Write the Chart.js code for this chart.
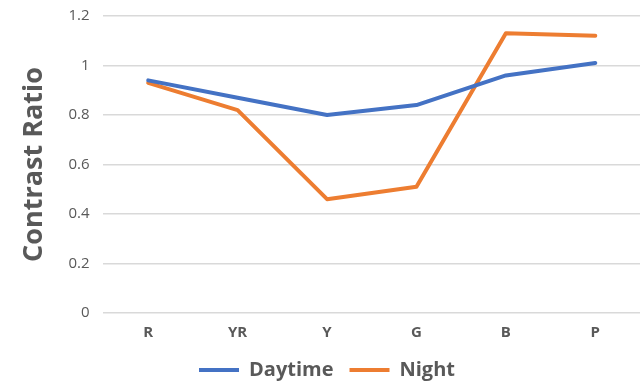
<!DOCTYPE html>
<html>
<head>
<meta charset="utf-8">
<script src="https://cdn.jsdelivr.net/npm/chart.js@4"></script>
<style>
  html, body { margin: 0; padding: 0; background: #fff; }
  #wrap { width: 644px; height: 385px; }
</style>
</head>
<body>
<div id="wrap"><canvas id="contrastChart"></canvas></div>
<script>

// ======================
// DATA
// ======================

const categories = ["R", "YR", "Y", "G", "B", "P"];
const daytimeValues = [0.94, 0.87, 0.80, 0.84, 0.96, 1.01];
const nightValues = [0.93, 0.82, 0.46, 0.51, 1.13, 1.12];
const yTicks = [0, 0.2, 0.4, 0.6, 0.8, 1, 1.2];


// ======================
// COLORS
// ======================

const blue = "#4472C4";
const orange = "#ED7D31";
const textGray = "#595959";
const gridGray = "#d9d9d9";


// ======================
// LEGEND NUDGE
// ======================

// pulls the legend a bit closer to the axis labels
const legendNudge = {
  id: "legendNudge",
  afterLayout(chart) {
    if(chart.legend) {
      chart.legend.top -= 1;
      chart.legend.bottom -= 1;
    }
  }
};


// ======================
// RENDER
// ======================

const canvas =
  document.getElementById("contrastChart");

new Chart(canvas, {

  type: "line",

  data: {
    labels: categories,
    datasets: [
      {
        label: "Daytime",
        data: daytimeValues,
        borderColor: blue,
        backgroundColor: blue,
        borderWidth: 4,
        pointRadius: 0,
        tension: 0,
        borderCapStyle: "round",
        borderJoinStyle: "round"
      },
      {
        label: "Night",
        data: nightValues,
        borderColor: orange,
        backgroundColor: orange,
        borderWidth: 4,
        pointRadius: 0,
        tension: 0,
        borderCapStyle: "round",
        borderJoinStyle: "round"
      }
    ]
  },

  plugins: [legendNudge],

  options: {
    responsive: true,
    maintainAspectRatio: false,
    animation: false,
    layout: {
      padding: { left: 14, right: 4, top: 16, bottom: -6 }
    },
    plugins: {
      tooltip: { enabled: false },
      legend: {
        position: "bottom",
        labels: {
          usePointStyle: true,
          pointStyle: "line",
          pointStyleWidth: 40,
          color: textGray,
          padding: 16,
          font: { family: "Open Sans", size: 20, weight: "bold" }
        }
      }
    },
    scales: {
      x: {
        offset: true,
        grid: { display: false },
        border: { display: false },
        ticks: {
          color: textGray,
          padding: 3,
          font: { family: "Open Sans", size: 15, weight: "bold" }
        }
      },
      y: {
        min: 0,
        max: 1.2,
        afterBuildTicks: axis => {
          axis.ticks = yTicks.map(v => ({ value: v }));
        },
        afterFit: axis => {
          axis.paddingTop = 0;
          axis.paddingBottom = 0;
        },
        grid: { color: gridGray, lineWidth: 1.5, drawTicks: false },
        border: { display: false },
        ticks: {
          color: textGray,
          padding: 14,
          font: { family: "Open Sans", size: 15 },
          callback: value => String(Math.round(value * 10) / 10)
        },
        title: {
          display: true,
          text: "Contrast Ratio",
          color: textGray,
          padding: { bottom: 4 },
          font: { family: "Open Sans", size: 27, weight: "bold" }
        }
      }
    }
  }

});

</script>
</body>
</html>
